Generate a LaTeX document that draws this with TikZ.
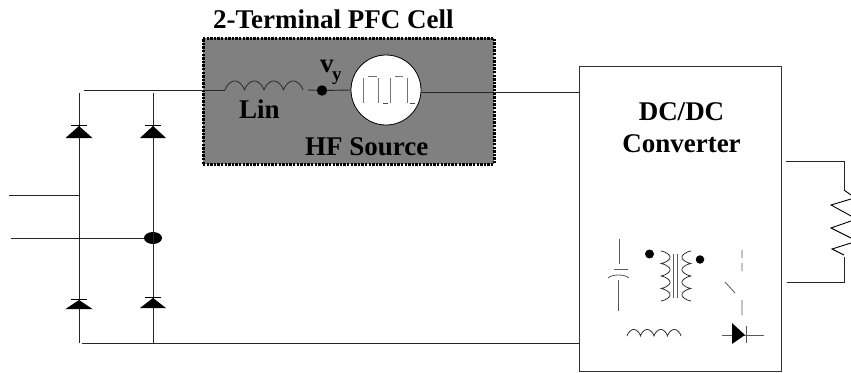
\documentclass[tikz,border=0pt]{standalone}
\usepackage{fontspec}
\usetikzlibrary{shapes.geometric}
\setmainfont{Liberation Serif}
\tikzset{
  wire/.style={line width=0.9pt,draw=black!85},
  thin wire/.style={line width=0.8pt,draw=black!65},
  lbl/.style={inner sep=0pt,anchor=base west,font=\bfseries\fontsize{27}{28}\selectfont},
  dotn/.style={circle,fill=black,inner sep=0pt},
  coil/.style={line width=0.8pt,draw=black!80,line cap=round}
}
\begin{document}
\begin{tikzpicture}[x=1pt,y=-1pt]
\useasboundingbox (0,0) rectangle (851,372);
% boxes
\node[name=cell,draw=black,fill=black!50,line width=3pt,dash pattern=on 2.4pt off 1.2pt,minimum width=291pt,minimum height=126pt,inner sep=0pt] at (348.5,101) {};
\node[name=dc,draw=black!80,line width=0.9pt,minimum width=201.5pt,minimum height=304.5pt,inner sep=0pt] at (680.25,219) {};
% named points
\coordinate (tl) at (84,90); \coordinate (l0) at (225,90); \coordinate (l1) at (303,90);
\coordinate (l2) at (308,90); \coordinate (bl) at (82,343.5); \coordinate (br) at (580,343.5);
\coordinate (dcin) at (580,92.5); \coordinate (srcout) at (422,92.5);
\coordinate (la) at (79,93); \coordinate (lb) at (79,343); \coordinate (ra) at (153,93); \coordinate (rb) at (153,343);
\coordinate (ina) at (9,195); \coordinate (ina2) at (79,195);
\coordinate (inb) at (11,238);
\coordinate (oa) at (786,161); \coordinate (ob) at (787,282); \coordinate (ra1) at (844,161); \coordinate (rb1) at (844,282);
\coordinate (rz0) at (844,190); \coordinate (rz1) at (844,257);
% circle + dot
\node[name=src,circle,draw=black,fill=white,line width=0.8pt,minimum size=70pt,inner sep=0pt] at (386,90) {};
\node[name=vy,dotn,minimum size=10.5pt] at (322,90.5) {};
\node[name=mid,ellipse,fill=black,inner sep=0pt,minimum width=18pt,minimum height=12pt] at (153,238) {};
% wires
\draw[wire] (tl) -- (l0);
\draw[wire] (l2) -- (vy) -- (src.west);
\draw[wire] (srcout) -- (dcin);
\draw[wire] (bl) -- (br);
\draw[wire] (la) -- (lb);
\draw[wire] (ra) -- (rb);
\draw[wire] (ina) -- (ina2);
\draw[wire] (inb) -- (mid);
% inductor Lin
\draw[coil,line width=0.9pt,smooth] plot[domain=0:4,samples=81] ({225+19.5*\x},{90-9*abs(sin(180*\x))^0.7});
% waveform
\draw[line width=0.9pt,black!55] (363,78)--(363,103) (378,78)--(378,103) (390,78)--(390,103) (407,78)--(407,103) (368,76)--(377,76) (395,76)--(403,76);
\draw[line width=0.9pt,black!70] (383,103.5)--(388,103.5) (410,103.5)--(415,103.5);
% diodes
\foreach \xx/\ay/\by/\hw in {79/126/138/13.5,153/126/138/13,79/300/309/13.5,153/298/308/13}{
  \fill (\xx-\hw,\by) -- (\xx,\ay) -- (\xx+\hw,\by) -- cycle;
  \draw[line width=0.9pt] (\xx-8,\ay-1) -- (\xx+8,\ay-1);
}
% load
\draw[wire] (oa) -- (ra1) -- (rz0);
\draw[wire] (ob) -- (rb1) -- (rz1);
\draw[line width=0.9pt] (rz0) -- (851,195) (851,199) -- (831,205) -- (851,216) (851,221) -- (831,228) -- (851,238) (851,243) -- (832,249) -- (844,255);
% capacitor
\draw[thin wire] (619,239) -- (619,264) (614,269) -- (628,269) (618,280) -- (618,311);
\draw[thin wire] (608,278) .. controls (612,274) and (625,274) .. (629,278);
% transformer
\node[name=d1,dotn,minimum size=9pt] at (649.5,254) {};
\node[name=d2,dotn,minimum size=8.5pt] at (700,259.5) {};
\draw[coil,smooth] plot[domain=0:4,samples=81] ({661+9*abs(sin(180*\x))^0.7},{251+12.5*\x});
\draw[coil,smooth] plot[domain=0:4,samples=81] ({691-9*abs(sin(180*\x))^0.7},{251+12.5*\x});
\draw[thin wire] (673,254)--(673,298) (677,254)--(677,298);
% inductor
\draw[coil,smooth] plot[domain=0:4,samples=81] ({627+13.5*\x},{336-6.5*abs(sin(180*\x))^0.7});
% switch
\draw[thin wire] (742,250)--(742,258) (742,263)--(742,271) (725,282)--(735,293) (742,300)--(742,315);
% diode
\draw[thin wire] (722,335)--(764,335) (746,326)--(746,343);
\fill (732,323)--(745,335)--(732,344)--cycle;
% text
\node[lbl] (t1) at (213,28) {2-Terminal PFC Cell};
\node[lbl] (t2) at (239,118) {Lin};
\node[lbl] (t3) at (305,155) {HF Source};
\node[lbl] (t4) at (320,72) {v};
\node[lbl,font=\bfseries\fontsize{19}{20}\selectfont] (t5) at (332,80) {y};
\node[lbl,anchor=base] (t6) at (681.5,120) {DC/DC};
\node[lbl,anchor=base] (t7) at (681.5,152) {Converter};
\end{tikzpicture}
\end{document}
